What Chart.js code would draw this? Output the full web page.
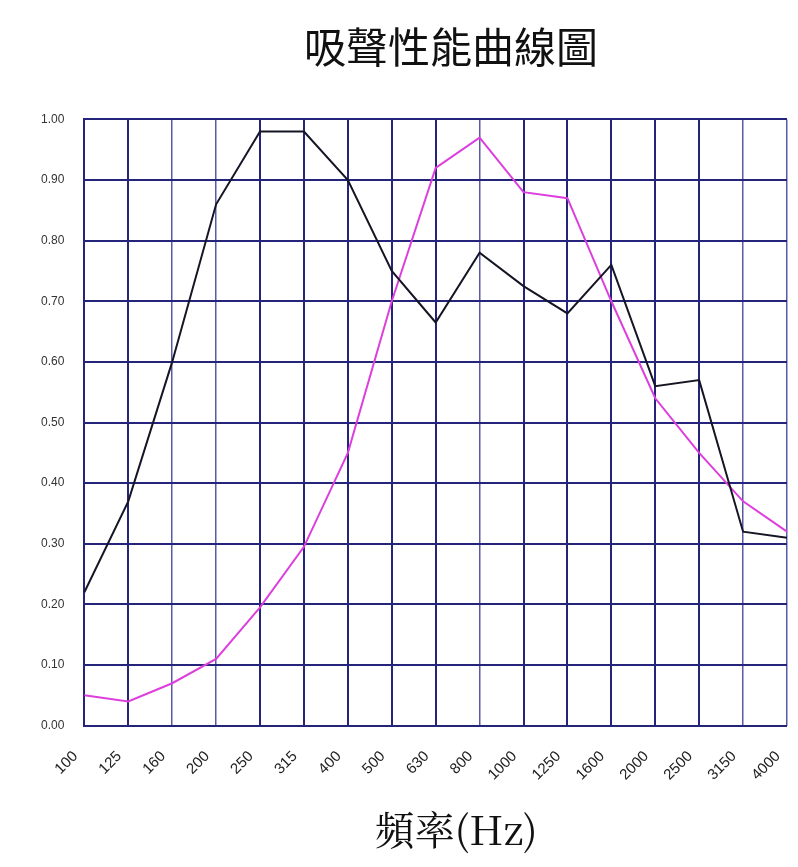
<!DOCTYPE html>
<html>
<head>
<meta charset="utf-8">
<script src="https://cdn.jsdelivr.net/npm/chart.js@4.4.0/dist/chart.umd.min.js"></script>
<style>
  html, body { margin: 0; padding: 0; background: #fff; }
  #wrap { width: 798px; height: 867px; }
</style>
</head>
<body>
<div id="wrap"><canvas id="absChart"></canvas></div>
<script>
// frequencies (Hz)
const freqLabels = ['100', '125', '160', '200', '250', '315', '400', '500', '630', '800',
                    '1000', '1250', '1600', '2000', '2500', '3150', '4000'];

// black curve
const curveBlack = [0.22, 0.37, 0.60, 0.86, 0.98, 0.98, 0.90, 0.75, 0.665, 0.78,
                    0.725, 0.68, 0.76, 0.56, 0.57, 0.32, 0.31];

// magenta curve
const curvePink = [0.05, 0.04, 0.07, 0.11, 0.195, 0.295, 0.45, 0.70, 0.92, 0.97,
                   0.88, 0.87, 0.70, 0.54, 0.45, 0.37, 0.32];

const gridColor = '#24247a';
// in the original scan a few vertical lines come out paler
const paleLines = [2, 3, 9, 15, 16];

const ctx = document.getElementById('absChart').getContext('2d');
const absChart = new Chart(ctx, {
    type: 'line',
    data: {
        labels: freqLabels,
        datasets: [
            { label: 'A', data: curveBlack, borderColor: '#151525', borderWidth: 2, tension: 0, pointRadius: 0 },
            { label: 'B', data: curvePink, borderColor: '#dd3fdd', borderWidth: 2, tension: 0, pointRadius: 0 }
        ]
    },
    options: {
        responsive: true,
        maintainAspectRatio: false,
        animation: false,
        layout: { padding: { left: 21, right: 11, top: 10, bottom: 13 } },
        plugins: {
            legend: { display: false },
            tooltip: { enabled: false },
            title: {
                display: true,
                text: '          吸聲性能曲線圖',
                color: '#111',
                font: { family: '"Noto Sans CJK TC"', size: 42, weight: 'normal' },
                padding: { top: 12, bottom: 47 }
            }
        },
        scales: {
            x: {
                offset: false,
                afterFit: s => { s.paddingRight = 0; },
                grid: {
                    color: c => paleLines.includes(c.index) ? '#5a5aa5' : gridColor,
                    lineWidth: c => paleLines.includes(c.index) ? 1.5 : 2,
                    drawTicks: false
                },
                border: { display: false },
                ticks: {
                    minRotation: 45, maxRotation: 45, padding: 22, labelOffset: -9,
                    color: '#222',
                    font: { family: '"Liberation Sans"', size: 15 }
                },
                title: {
                    display: true,
                    text: '    頻率(Hz)',
                    color: '#111',
                    font: { family: '"Noto Serif CJK TC", "Noto Sans CJK TC"', size: 40 },
                    padding: { top: 0, bottom: 0 }
                }
            },
            y: {
                min: 0, max: 1,
                grid: { color: gridColor, lineWidth: 2, drawTicks: false },
                border: { color: gridColor, width: 2 },
                ticks: {
                    stepSize: 0.1, padding: 20,
                    color: '#333',
                    font: { family: '"Liberation Sans"', size: 12 },
                    callback: v => v.toFixed(2)
                }
            }
        }
    }
});
</script>
</body>
</html>
